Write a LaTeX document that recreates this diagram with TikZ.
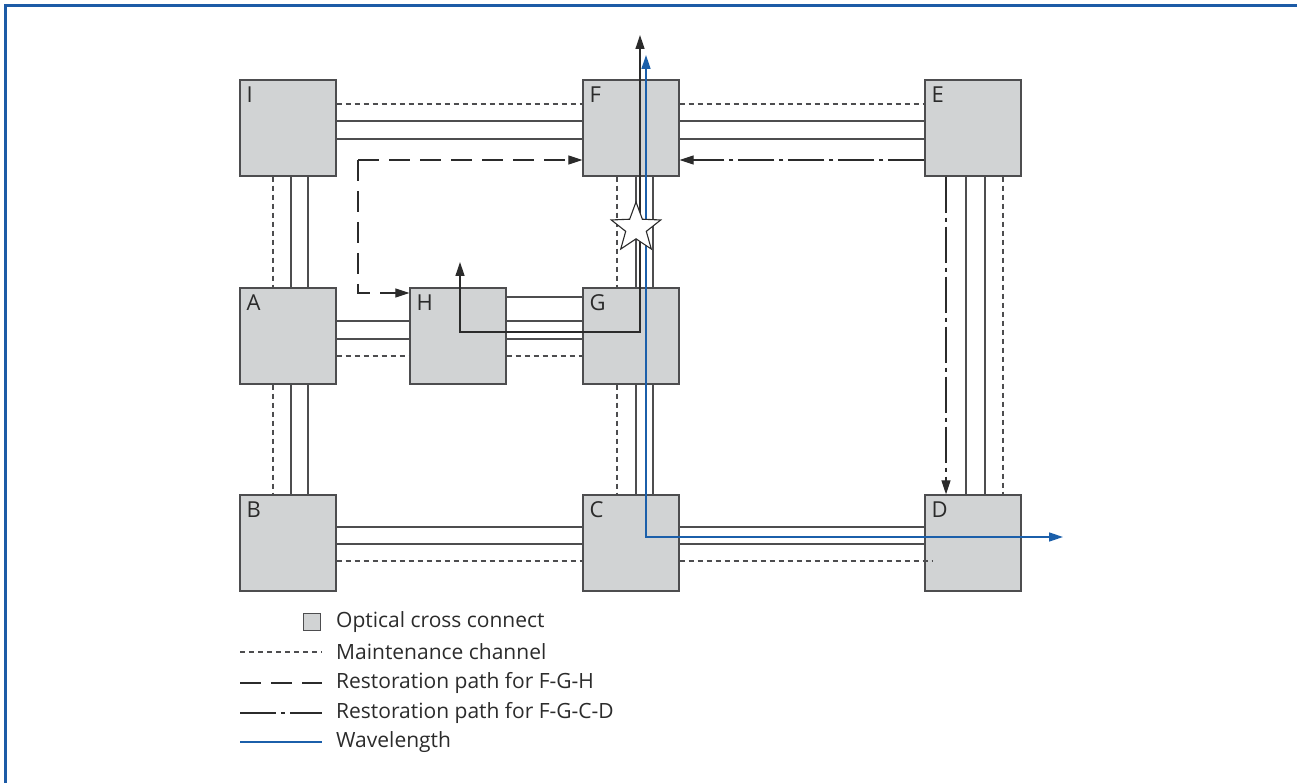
\documentclass[tikz,border=0pt]{standalone}
\usepackage{fontspec}
\setmainfont{Open Sans}
\usetikzlibrary{arrows.meta,shapes.geometric}
\definecolor{oxcfill}{HTML}{D1D3D4}
\definecolor{oxcline}{HTML}{4D4D4F}
\definecolor{inkgray}{HTML}{2B2B2B}
\definecolor{wlblue}{HTML}{1B5FAA}
\definecolor{framebl}{HTML}{1D5BA6}

\begin{document}
\begin{tikzpicture}[x=1pt,y=-1pt,font=\fontsize{21}{24}\selectfont,
  >={Triangle[length=14pt,width=9pt]},
  oxc/.style={draw=oxcline,fill=oxcfill,line width=1.3pt,minimum size=96pt,inner sep=0pt},
  tag/.style={anchor=north west,inner sep=0pt,text=inkgray,font=\fontsize{22}{24}\selectfont},
  fibre/.style={draw=oxcline,line width=1.1pt},
  maint/.style={draw=oxcline,line width=1.1pt,dash pattern=on 5pt off 4pt},
  restfgh/.style={draw=inkgray,line width=1.1pt,dash pattern=on 21pt off 10pt},
  restfgcd/.style={draw=inkgray,line width=1.1pt,dash pattern=on 36pt off 5pt on 4pt off 5pt},
  route/.style={draw=inkgray,line width=1.3pt},
  wave/.style={draw=wlblue,line width=1.4pt},
  key/.style={anchor=west,inner sep=0pt,text=inkgray}]

\useasboundingbox (0,0) rectangle (1297,783);
\draw[framebl,line width=3pt] (5,783) -- (5,6) -- (1297,6);

% ===== optical cross connects =====
\node[oxc] (I) at (288,128) {};
\node[oxc] (F) at (631,128) {};
\node[oxc] (E) at (973,128) {};
\node[oxc] (A) at (288,336) {};
\node[oxc] (H) at (458,336) {};
\node[oxc] (G) at (631,336) {};
\node[oxc] (B) at (288,543) {};
\node[oxc] (C) at (631,543) {};
\node[oxc] (D) at (973,543) {};
\foreach \n in {I,F,E,A,H,G,B,C,D}
  \node[tag] (tag\n) at ([xshift=7pt,yshift=-7pt]\n.north west) {\n};

% ===== fibre links: two fibres + maintenance channel =====
% top row
\foreach \a/\b in {I/F,F/E}{
  \draw[maint] ([yshift=24pt]\a.east) -- ([yshift=24pt]\b.west);
  \draw[fibre] ([yshift=7pt]\a.east) -- ([yshift=7pt]\b.west);
  \draw[fibre] ([yshift=-11pt]\a.east) -- ([yshift=-11pt]\b.west);}
% left column
\foreach \a/\b in {I/A,A/B}{
  \draw[maint] ([xshift=-15pt]\a.south) -- ([xshift=-15pt]\b.north);
  \draw[fibre] ([xshift=3pt]\a.south) -- ([xshift=3pt]\b.north);
  \draw[fibre] ([xshift=20pt]\a.south) -- ([xshift=20pt]\b.north);}
% middle row
\draw[fibre] ([yshift=39pt]H.east) -- ([yshift=39pt]G.west);
\foreach \a/\b in {A/H,H/G}{
  \draw[fibre] ([yshift=15pt]\a.east) -- ([yshift=15pt]\b.west);
  \draw[fibre] ([yshift=-3pt]\a.east) -- ([yshift=-3pt]\b.west);
  \draw[maint] ([yshift=-20pt]\a.east) -- ([yshift=-20pt]\b.west);}
% middle column
\foreach \a/\b in {F/G,G/C}{
  \draw[maint] ([xshift=-14pt]\a.south) -- ([xshift=-14pt]\b.north);
  \draw[fibre] ([xshift=5pt]\a.south) -- ([xshift=5pt]\b.north);
  \draw[fibre] ([xshift=22pt]\a.south) -- ([xshift=22pt]\b.north);}
% bottom row
\foreach \a/\b in {B/C,C/D}{
  \draw[fibre] ([yshift=16pt]\a.east) -- ([yshift=16pt]\b.west);
  \draw[fibre] ([yshift=-1pt]\a.east) -- ([yshift=-1pt]\b.west);}
\draw[maint] ([yshift=-18pt]B.east) -- ([yshift=-18pt]C.west);
\draw[maint] ([yshift=-18pt]C.east) -- ([xshift=8pt,yshift=-18pt]D.west);
% right column
\draw[fibre] ([xshift=-7pt]E.south) -- ([xshift=-7pt]D.north);
\draw[fibre] ([xshift=12pt]E.south) -- ([xshift=12pt]D.north);
\draw[maint] ([xshift=30pt]E.south) -- ([xshift=30pt]D.north);

% ===== restoration paths =====
\coordinate (rcorner) at (358,160);
\draw[restfgh,->] (rcorner) -- ([yshift=-32pt]F.west);
\draw[restfgh,->] (rcorner) |- ([yshift=43pt]H.west);
\draw[restfgcd,->] ([yshift=-32pt]E.west) -- ([yshift=-32pt]F.east);
\draw[restfgcd,->] ([xshift=-27pt]E.south) -- ([xshift=-27pt]D.north);

% ===== working route H-G-F and wavelength =====
\coordinate (rtop) at (640,35);
\coordinate (rkink) at (460,332);
\coordinate (rend) at (460,262);
\draw[route,<->] (rtop) |- (rkink) -- (rend);
\coordinate (wtop) at (646,55);
\coordinate (wout) at (1063,537);
\draw[wave,<->,wlblue] (wtop) |- (wout);

% fibre cut between F and G
\node[star,star points=5,star point ratio=2.4,minimum size=52pt,inner sep=0pt,
      draw=inkgray,fill=white,line width=1.1pt] (cut) at (636,228) {};

% ===== legend =====
\node[draw=oxcline,fill=oxcfill,line width=1.1pt,minimum size=17pt,inner sep=0pt] (kbox) at (312,622) {};
\node[key] (k1) at (336,622) {Optical cross connect};
\node[key] (k2) at (336,652) {Maintenance channel};
\node[key] (k3) at (336,683) {Restoration path for F-G-H};
\node[key] (k4) at (336,713) {Restoration path for F-G-C-D};
\node[key] (k5) at (336,742) {Wavelength};
\draw[maint] ([xshift=-96pt]k2.west) -- ([xshift=-14pt]k2.west);
\draw[restfgh] ([xshift=-96pt]k3.west) -- ([xshift=-14pt]k3.west);
\draw[restfgcd] ([xshift=-96pt]k4.west) -- ([xshift=-14pt]k4.west);
\draw[wave] ([xshift=-96pt]k5.west) -- ([xshift=-14pt]k5.west);

\end{tikzpicture}
\end{document}
